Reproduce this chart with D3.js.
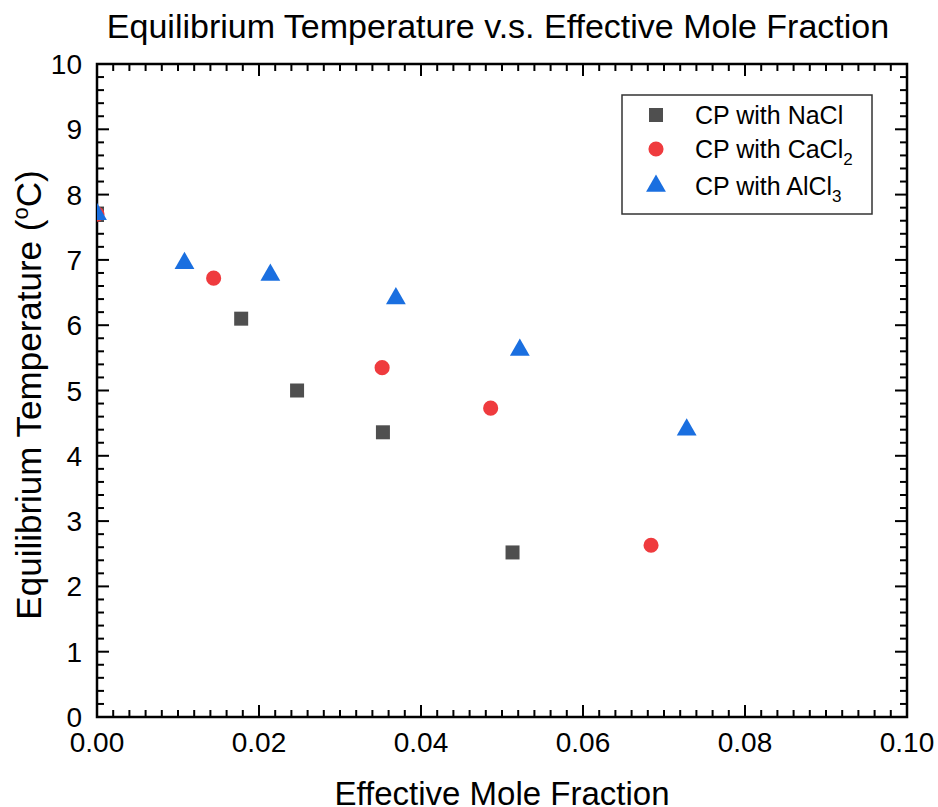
<!DOCTYPE html>
<html>
<head>
<meta charset="utf-8">
<title>Equilibrium Temperature</title>
<script src="https://cdn.jsdelivr.net/npm/d3@7"></script>
<style>
body { margin: 0; background: #fff; }
text { font-family: "Liberation Sans", Arial, sans-serif; fill: #000; }
.frame line, .frame path { stroke: #000; }
</style>
</head>
<body>
<script>
// data
var naclX = [0, 0.0178, 0.0247, 0.0353, 0.0513];
var naclY = [7.7, 6.10, 5.00, 4.36, 2.52];
var cacl2X = [0, 0.0144, 0.0352, 0.0486, 0.0684];
var cacl2Y = [7.7, 6.72, 5.35, 4.73, 2.63];
var alcl3X = [0, 0.0108, 0.0214, 0.0369, 0.0522, 0.0728];
var alcl3Y = [7.7, 6.95, 6.77, 6.41, 5.62, 4.40];
var xTicks = [0, 0.02, 0.04, 0.06, 0.08, 0.10];
var yTicks = [0, 1, 2, 3, 4, 5, 6, 7, 8, 9, 10];

var width = 938, height = 807;
var pL = 97, pR = 907, pT = 64, pB = 717;

var svg = d3.select("body").append("svg")
	.attr("width", width)
	.attr("height", height);

var x = d3.scaleLinear().domain([0, 0.10]).range([pL, pR]);
var y = d3.scaleLinear().domain([0, 10]).range([pB, pT]);

// minor ticks
var xMinor = d3.range(0, 51).map(function(i){ return i * 0.002; }).filter(function(d,i){ return i % 10 != 0; });
var yMinor = d3.range(0, 51).map(function(i){ return i * 0.2; }).filter(function(d,i){ return i % 5 != 0; });

var g = svg.append("g").attr("class", "frame");

function tickLines(vals, len, horizontal, pos, dir) {
	vals.forEach(function(v){
		if (horizontal) {
			g.append("line").attr("x1", x(v)).attr("x2", x(v))
				.attr("y1", pos).attr("y2", pos + dir * len)
				.attr("stroke-width", 2);
		} else {
			g.append("line").attr("y1", y(v)).attr("y2", y(v))
				.attr("x1", pos).attr("x2", pos + dir * len)
				.attr("stroke-width", 2);
		}
	});
}
// inward ticks on all four sides
tickLines(xTicks, 12, true, pB, -1);
tickLines(xMinor, 7, true, pB, -1);
tickLines(xTicks, 12, true, pT, 1);
tickLines(xMinor, 7, true, pT, 1);
tickLines(yTicks, 12, false, pL, 1);
tickLines(yMinor, 7, false, pL, 1);
tickLines(yTicks, 12, false, pR, -1);
tickLines(yMinor, 7, false, pR, -1);

g.append("rect")
	.attr("x", pL).attr("y", pT)
	.attr("width", pR - pL).attr("height", pB - pT)
	.attr("fill", "none").attr("stroke", "#000").attr("stroke-width", 2.5);

// tick labels
svg.selectAll(".xl").data(xTicks).enter().append("text")
	.attr("x", function(d){ return x(d); })
	.attr("y", pB + 35)
	.attr("text-anchor", "middle")
	.attr("font-size", 28)
	.text(function(d){ return d3.format(".2f")(d); });
svg.selectAll(".yl").data(yTicks).enter().append("text")
	.attr("x", pL - 15)
	.attr("y", function(d){ return y(d) + 10; })
	.attr("text-anchor", "end")
	.attr("font-size", 28)
	.text(function(d){ return d; });

// titles
svg.append("text")
	.attr("x", 498).attr("y", 38)
	.attr("text-anchor", "middle")
	.attr("font-size", 34)
	.text("Equilibrium Temperature v.s. Effective Mole Fraction");
svg.append("text")
	.attr("x", 502).attr("y", 805)
	.attr("text-anchor", "middle")
	.attr("font-size", 33)
	.text("Effective Mole Fraction");
var yt = svg.append("text")
	.attr("transform", "translate(41,395) rotate(-90)")
	.attr("text-anchor", "middle")
	.attr("font-size", 35);
yt.append("tspan").text("Equilibrium Temperature (");
yt.append("tspan").attr("font-size", 22).attr("dy", -13).text("o");
yt.append("tspan").attr("dy", 13).text("C)");

// markers
svg.append("clipPath").attr("id", "clip").append("rect")
	.attr("x", pL).attr("y", pT)
	.attr("width", pR - pL).attr("height", pB - pT);
var plot = svg.append("g").attr("clip-path", "url(#clip)");

var series = [
	{ name: "NaCl", xs: naclX, ys: naclY, sym: d3.symbolSquare, size: 196, color: "#4f4f4f" },
	{ name: "CaCl2", xs: cacl2X, ys: cacl2Y, sym: d3.symbolCircle, size: 180, color: "#ef3b3e" },
	{ name: "AlCl3", xs: alcl3X, ys: alcl3Y, sym: d3.symbolTriangle, size: 170, color: "#1a6fe0" }
];
series.forEach(function(s){
	plot.selectAll(null).data(s.xs).enter().append("path")
		.attr("d", d3.symbol().type(s.sym).size(s.size))
		.attr("transform", function(d, i){ return "translate(" + x(d) + "," + y(s.ys[i]) + ")"; })
		.attr("fill", s.color);
});

// legend
var lg = svg.append("g");
lg.append("rect")
	.attr("x", 622).attr("y", 95).attr("width", 250).attr("height", 119)
	.attr("fill", "#fff").attr("stroke", "#333").attr("stroke-width", 1.5);
var rows = [115, 149, 186];
var labels = [["CP with NaCl", ""], ["CP with CaCl", "2"], ["CP with AlCl", "3"]];
series.forEach(function(s, i){
	lg.append("path")
		.attr("d", d3.symbol().type(s.sym).size(s.size))
		.attr("transform", "translate(656," + rows[i] + ")")
		.attr("fill", s.color);
	var t = lg.append("text")
		.attr("x", 695).attr("y", rows[i] + 9)
		.attr("font-size", 25);
	t.append("tspan").text(labels[i][0]);
	if (labels[i][1]) {
		t.append("tspan").attr("font-size", 17).attr("dy", 7).text(labels[i][1]);
	}
});
</script>
</body>
</html>
